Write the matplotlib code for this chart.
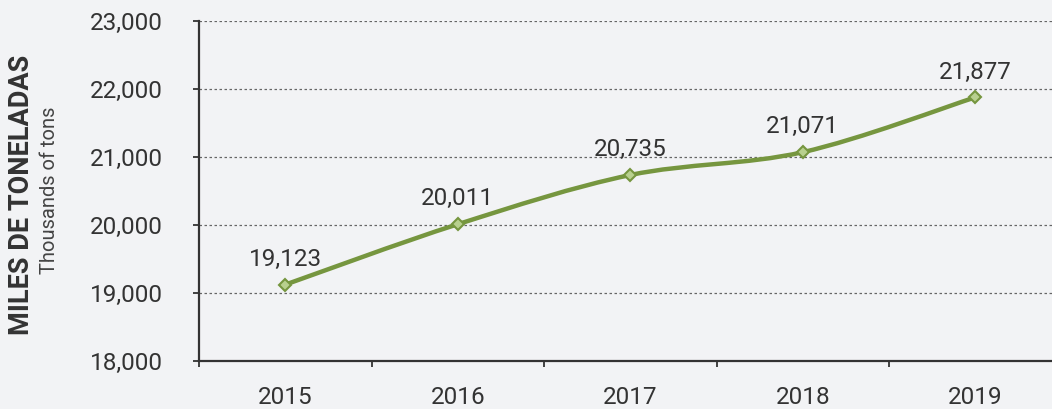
import matplotlib
matplotlib.use("Agg")
import matplotlib.pyplot as plt
from matplotlib.path import Path
from matplotlib.patches import PathPatch
from matplotlib.ticker import FuncFormatter, FixedLocator
import numpy as np

years = ["2015", "2016", "2017", "2018", "2019"]
values = [19123, 20011, 20735, 21071, 21877]
value_labels = ["19,123", "20,011", "20,735", "21,071", "21,877"]

bg = "#f2f3f5"
green = "#76963f"
light_green = "#b8d08e"
dark = "#333333"

plt.rcParams['font.family'] = ['Roboto', 'DejaVu Sans']

fig = plt.figure(figsize=(10.52, 4.09), dpi=100, facecolor=bg)
ax = fig.add_axes([199/1052, 48/409, 862.5/1052, 340/409])
ax.set_facecolor(bg)

x = np.arange(len(values))
y = np.array(values, dtype=float)

# smooth curve via cubic Bezier segments (Catmull-Rom style)
verts = [(x[0], y[0])]
codes = [Path.MOVETO]
n = len(x)
for i in range(n - 1):
    p0 = (x[i-1], y[i-1]) if i > 0 else (x[i], y[i])
    p1 = (x[i], y[i])
    p2 = (x[i+1], y[i+1])
    p3 = (x[i+2], y[i+2]) if i + 2 < n else (x[i+1], y[i+1])
    t = 1/6
    c1 = (p1[0] + (p2[0]-p0[0])*t, p1[1] + (p2[1]-p0[1])*t)
    c2 = (p2[0] - (p3[0]-p1[0])*t, p2[1] - (p3[1]-p1[1])*t)
    verts += [c1, c2, p2]
    codes += [Path.CURVE4]*3
patch = PathPatch(Path(verts, codes), facecolor='none', edgecolor=green,
                  lw=3.2, capstyle='round', joinstyle='round', zorder=3)
ax.add_patch(patch)
ax.plot(x, y, linestyle='none', marker='D', markersize=6.5,
        markerfacecolor=light_green, markeredgecolor=green, markeredgewidth=1.5, zorder=4)

for xi, yi, lab in zip(x, y, value_labels):
    ax.annotate(lab, (xi, yi), xytext=(0, 10), textcoords='offset points',
                ha='center', va='bottom', fontsize=17.5, color=dark)

ax.set_xlim(-0.5, 4.5)
ax.set_ylim(18000, 23000)
ax.set_yticks(np.arange(18000, 23001, 1000))
ax.yaxis.set_major_formatter(FuncFormatter(lambda v, p: f"{int(v):,}"))
ax.tick_params(axis='y', labelsize=17.5, labelcolor=dark, color=dark, length=4, width=1.3, pad=22)

ax.set_xticks(x)
ax.set_xticklabels(years)
ax.xaxis.set_minor_locator(FixedLocator(np.arange(-0.5, 4.6, 1.0)))
ax.tick_params(axis='x', which='major', length=0, labelsize=17.5, labelcolor=dark, pad=18)
ax.tick_params(axis='x', which='minor', length=4, width=1.3, color=dark)

for v in np.arange(19000, 23001, 1000):
    ax.axhline(v, color='#666666', lw=0.9, linestyle=(0, (2, 2)), zorder=1)

for s in ['top', 'right']:
    ax.spines[s].set_visible(False)
for s in ['left', 'bottom']:
    ax.spines[s].set_color(dark)
    ax.spines[s].set_linewidth(1.6)

fig.text(22/1052, 1 - 195/409, "MILES DE TONELADAS", rotation=90, ha='center', va='center',
         fontsize=19.5, fontweight='bold', color=dark)
fig.text(50/1052, 1 - 190/409, "Thousands of tons", rotation=90, ha='center', va='center',
         fontsize=14.5, color='#444444')

fig.savefig("out.png", dpi=100, facecolor=bg)
